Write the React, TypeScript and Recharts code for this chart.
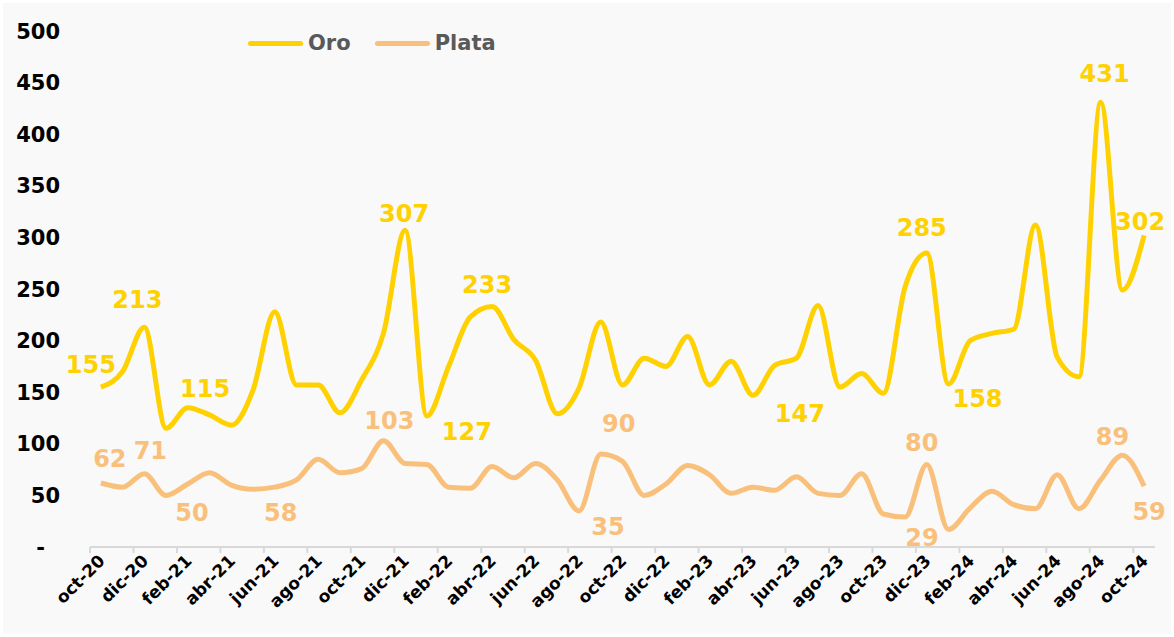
import React from 'react'
import { LineChart, Line, XAxis, YAxis, Legend, LabelList } from 'recharts'

const MONTHS = [
  'oct-20', 'nov-20', 'dic-20',
  'ene-21', 'feb-21', 'mar-21', 'abr-21', 'may-21', 'jun-21', 'jul-21', 'ago-21', 'sep-21', 'oct-21', 'nov-21', 'dic-21',
  'ene-22', 'feb-22', 'mar-22', 'abr-22', 'may-22', 'jun-22', 'jul-22', 'ago-22', 'sep-22', 'oct-22', 'nov-22', 'dic-22',
  'ene-23', 'feb-23', 'mar-23', 'abr-23', 'may-23', 'jun-23', 'jul-23', 'ago-23', 'sep-23', 'oct-23', 'nov-23', 'dic-23',
  'ene-24', 'feb-24', 'mar-24', 'abr-24', 'may-24', 'jun-24', 'jul-24', 'ago-24', 'sep-24', 'oct-24',
]

const ORO = [
  155, 170, 213,
  115, 135, 128, 118, 152, 228, 157, 157, 130, 162, 207, 307,
  127, 175, 223, 233, 201, 181, 129, 154, 218, 157, 183, 175,
  204, 157, 180, 147, 176, 183, 234, 155, 168, 149, 252, 285,
  158, 200, 207, 211, 312, 184, 165, 431, 249, 302,
]

const PLATA = [
  62, 58, 71,
  50, 61, 72, 60, 56, 58, 65, 85, 72, 76, 103, 81,
  80, 58, 57, 78, 67, 81, 65, 35, 90, 83, 50, 61,
  79, 70, 52, 58, 55, 68, 52, 50, 71, 32, 29, 80,
  17, 38, 54, 41, 37, 70, 37, 65, 89, 59,
]

// months that carry a data label
const ORO_LABELED = ['oct-20', 'dic-20', 'ene-21', 'dic-21', 'ene-22', 'abr-22', 'abr-23', 'dic-23', 'ene-24', 'ago-24', 'oct-24']
const PLATA_LABELED = ['oct-20', 'dic-20', 'ene-21', 'jun-21', 'nov-21', 'ago-22', 'sep-22', 'nov-23', 'dic-23', 'sep-24', 'oct-24']

const Y_TICKS = [0, 50, 100, 150, 200, 250, 300, 350, 400, 450, 500]

const SERIES = [
  { key: 'oro', name: 'Oro', color: '#FFD100' },
  { key: 'plata', name: 'Plata', color: '#F9C07C' },
]

// label offsets from their point (px)
const ORO_OFFSETS: Record<string, [number, number]> = {
  'oct-20': [-10, -23], 'dic-20': [-7, -28], 'ene-21': [39, -40], 'dic-21': [-1, -17],
  'ene-22': [40, 15], 'abr-22': [-5, -22], 'abr-23': [47, 18], 'dic-23': [-5, -26],
  'ene-24': [29, 14], 'ago-24': [4, -29], 'oct-24': [-4, -14],
}
const PLATA_OFFSETS: Record<string, [number, number]> = {
  'oct-20': [9, -25], 'dic-20': [6, -23], 'ene-21': [26, 17], 'jun-21': [6, 25],
  'nov-21': [6, -20], 'ago-22': [29, 15], 'sep-22': [18, -31], 'nov-23': [17, 20],
  'dic-23': [-5, -22], 'sep-24': [-10, -19], 'oct-24': [5, 25],
}

const data = MONTHS.map((m, i) => ({ month: m, oro: ORO[i], plata: PLATA[i] }))

const W = 1174
const H = 637
const MARGIN = { top: 31, right: 19, bottom: 0, left: 0 }
const Y_W = 90
const X_H = 90
const HALF_BAND = (W - MARGIN.left - MARGIN.right - Y_W) / MONTHS.length / 2
const FONT = '"DejaVu Sans", sans-serif'

const XTick = (props: any) => {
  const { x, y, payload } = props
  return (
    <g>
      <line x1={x - HALF_BAND} x2={x - HALF_BAND} y1={y} y2={y + 6} stroke="#d9d9d9" strokeWidth={2} />
      <g transform={`translate(${x + 5},${y + 15})`}>
        <text transform="rotate(-45)" textAnchor="end" fontSize={17} fontWeight={700} fill="#000" fontFamily={FONT}>
          {payload.value}
        </text>
      </g>
    </g>
  )
}

const YTick = (props: any) => {
  const { x, y, payload } = props
  const zero = payload.value === 0
  return (
    <text x={zero ? x - 15 : x} y={y} dy="0.36em" textAnchor="end" fontSize={21} fontWeight={700} fill="#000" fontFamily={FONT}>
      {zero ? '-' : payload.value}
    </text>
  )
}

const makeLabel = (labeled: string[], offsets: Record<string, [number, number]>, color: string) => (props: any) => {
  const { x, y, value, index } = props
  const m = MONTHS[index]
  if (!labeled.includes(m)) return null
  const [dx, dy] = offsets[m] || [0, -20]
  return (
    <text x={x + dx} y={y + dy} dy="0.36em" textAnchor="middle" fontSize={24} fontWeight={700} fill={color} fontFamily={FONT}>
      {value}
    </text>
  )
}

const LegendContent = () => (
  <div style={{ display: 'flex', alignItems: 'center', fontFamily: FONT, fontWeight: 700, fontSize: 21, color: '#595959' }}>
    {SERIES.map((s, i) => (
      <div key={s.key} style={{ display: 'flex', alignItems: 'center', marginLeft: i === 0 ? 0 : 24 }}>
        <span style={{ display: 'inline-block', width: 55, height: 5, borderRadius: 3, background: s.color }} />
        <span style={{ marginLeft: 5 }}>{s.name}</span>
      </div>
    ))}
  </div>
)

export default function App() {
  return (
    <div style={{ position: 'absolute', left: 0, top: 0, width: W, height: H, background: '#fff' }}>
      <div style={{ position: 'absolute', left: 3, top: 3, width: W - 6, height: H - 6, background: '#f9f9f9' }} />
      <div style={{ position: 'absolute', left: 0, top: 0 }}>
        <LineChart width={W} height={H} data={data} margin={MARGIN}>
          <XAxis
            dataKey="month"
            scale="band"
            interval={1}
            height={X_H}
            axisLine={{ stroke: '#d9d9d9', strokeWidth: 2 }}
            tickLine={false}
            tickSize={0}
            tickMargin={0}
            tick={<XTick />}
          />
          <YAxis
            domain={[0, 500]}
            ticks={Y_TICKS}
            width={Y_W}
            axisLine={false}
            tickLine={false}
            tickSize={0}
            tickMargin={30}
            tick={<YTick />}
          />
          <Legend
            layout="horizontal"
            verticalAlign="middle"
            align="center"
            wrapperStyle={{ top: 31, left: 248, width: 300, height: 26 }}
            content={<LegendContent />}
          />
          <Line
            dataKey="plata"
            name="Plata"
            type="monotone"
            stroke={SERIES[1].color}
            strokeWidth={5}
            dot={false}
            activeDot={false}
            isAnimationActive={false}
          >
            <LabelList dataKey="plata" content={makeLabel(PLATA_LABELED, PLATA_OFFSETS, SERIES[1].color)} />
          </Line>
          <Line
            dataKey="oro"
            name="Oro"
            type="monotone"
            stroke={SERIES[0].color}
            strokeWidth={5}
            dot={false}
            activeDot={false}
            isAnimationActive={false}
          >
            <LabelList dataKey="oro" content={makeLabel(ORO_LABELED, ORO_OFFSETS, SERIES[0].color)} />
          </Line>
        </LineChart>
      </div>
    </div>
  )
}
